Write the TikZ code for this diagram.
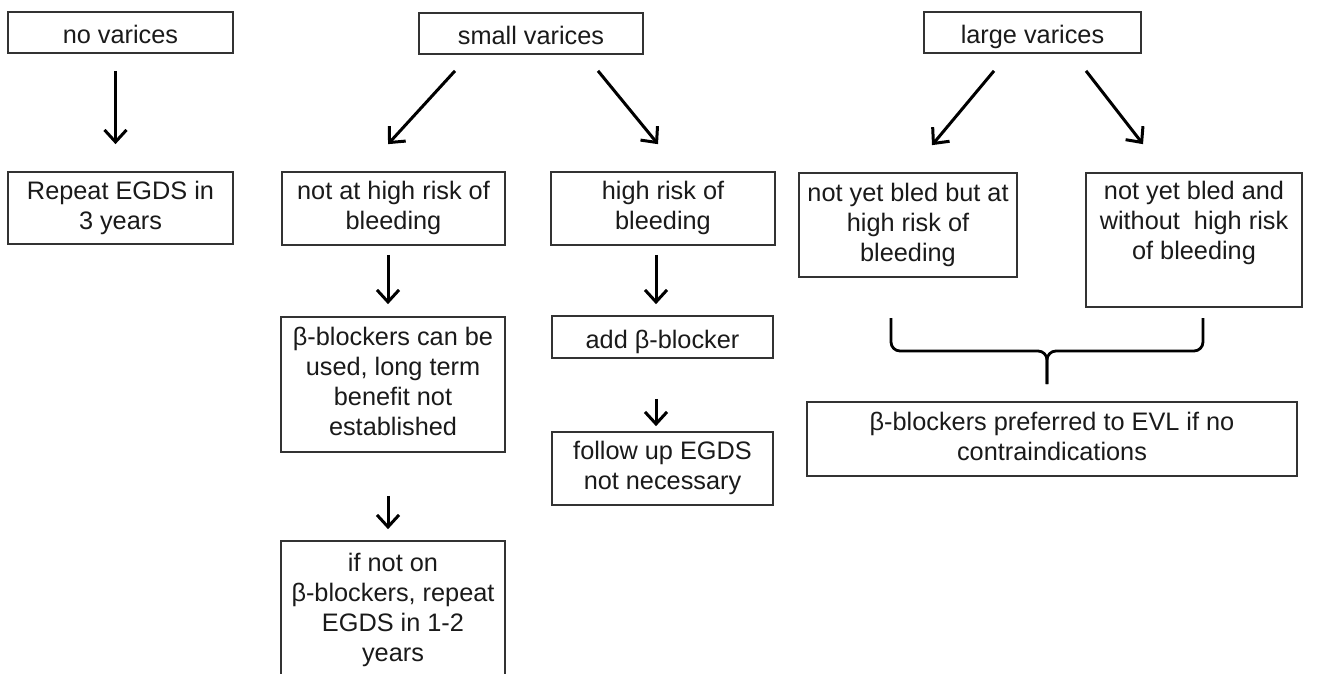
\documentclass[tikz,border=0pt]{standalone}
\usepackage{fontspec}
\setmainfont{Liberation Sans}
\usetikzlibrary{arrows.meta,calc}
\definecolor{txt}{HTML}{1A1A1A}
\definecolor{edge}{HTML}{333333}
\tikzset{
  box/.style={draw=edge, line width=1.7pt, align=center, inner sep=0pt, text=txt,
    font=\fontsize{25.3}{30}\selectfont,
    execute at begin node={\rule{0pt}{28pt}},
    execute at end node={\rule[-6pt]{0pt}{6pt}}},
  arr/.style={line width=3pt, black, -{Straight Barb[length=12pt,width=22pt,line width=3pt]}},
  brace/.style={line width=2.8pt, black, rounded corners=9pt}
}
\begin{document}
\begin{tikzpicture}[x=1pt,y=1pt]
\useasboundingbox (0,0) rectangle (1319,-674);
\clip (0,0) rectangle (1319,-674);
\fill[white] (0,0) rectangle (1319,-674);
% top row
\node[box, minimum width=225, minimum height=41] (nv) at (120.5,-32.5) {no varices};
\node[box, minimum width=224, minimum height=41] (sv) at (531,-33.5) {small varices};
\node[box, minimum width=217, minimum height=41] (lv) at (1032.5,-32.5) {large varices};
% second row
\node[box, minimum width=225, minimum height=72] (rep) at (120.5,-208) {Repeat EGDS in\\3 years};
\node[box, minimum width=223, minimum height=73] (nar) at (393.5,-208.5) {not at high risk of\\bleeding};
\node[box, minimum width=224, minimum height=73] (hr) at (663,-208.5) {high risk of\\bleeding};
\node[box, minimum width=218, minimum height=104] (nyb1) at (908,-225) {not yet bled but at\\high risk of\\bleeding};
\node[box, minimum width=216, minimum height=134] (nyb2) at (1194,-240) {not yet bled and\\without\ \ high risk\\of bleeding\\\strut};
% third rows
\node[box, minimum width=224, minimum height=135] (bb) at (393,-384.5) {β-blockers can be\\used, long term\\benefit not\\established};
\node[box, minimum width=221, minimum height=42] (add) at (662.5,-337) {add β-blocker};
\node[box, minimum width=221, minimum height=73] (fu) at (662.5,-468.5) {follow up EGDS\\not necessary};
\node[box, minimum width=224, minimum height=138] (ifn) at (393,-610) {if not on\\β-blockers, repeat\\EGDS in 1-2\\years};
\node[box, minimum width=490, minimum height=74] (pref) at (1052,-439) {β-blockers preferred to EVL if no\\contraindications};
% arrows
\draw[arr] ($(nv.south)+(-5,-17)$) -- ($(rep.north)+(-5,27)$);
\draw[arr] ($(sv.south)+(-76,-16)$) -- ($(nar.north)+(-5.5,27)$);
\draw[arr] ($(sv.south)+(67,-16)$) -- ($(hr.north)+(-5,27)$);
\draw[arr] ($(lv.south)+(-38.5,-17)$) -- ($(nyb1.north)+(24,27)$);
\draw[arr] ($(lv.south)+(53.5,-17)$) -- ($(nyb2.north)+(-51,28)$);
\draw[arr] ($(nar.south)+(-5.5,-9)$) -- ($(bb.north)+(-5,12)$);
\draw[arr] ($(bb.south)+(-5,-43)$) -- ($(ifn.north)+(-5,11)$);
\draw[arr] ($(hr.south)+(-7,-9)$) -- ($(add.north)+(-6.5,11)$);
\draw[arr] ($(add.south)+(-6.5,-40)$) -- ($(fu.north)+(-6.5,5)$);
% brace
\coordinate (tip) at (1047,-384);
\draw[brace] (891,-318) -- (891,-351) -- (1047,-351) -- (tip);
\draw[brace] (1203,-318) -- (1203,-351) -- (1047,-351) -- (tip);
\end{tikzpicture}
\end{document}
